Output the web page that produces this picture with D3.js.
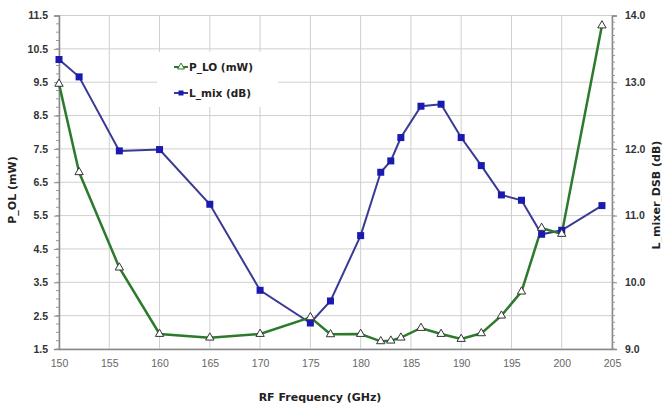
<!DOCTYPE html>
<meta charset="utf-8">
<body style="margin:0;background:#fff">
<script src="https://d3js.org/d3.v7.min.js"></script>
<script>

var width = 662,
    height = 406,
    margin = {top: 15.5, right: 50, bottom: 57, left: 59};

// frequencies (GHz)
var freq = [150, 152, 156, 160, 165, 170, 175, 177, 180, 182, 183, 184, 186, 188, 190, 192, 194, 196, 198, 200, 204];
// P_LO (mW), left axis
var pLO = [9.45, 6.8, 3.94, 1.95, 1.84, 1.95, 2.45, 1.94, 1.95, 1.73, 1.75, 1.84, 2.13, 1.95, 1.8, 1.97, 2.5, 3.22, 5.13, 4.95, 11.2];
// L_mix (dB), right axis
var lMix = [13.34, 13.08, 11.97, 11.99, 11.17, 9.88, 9.39, 9.72, 10.7, 11.65, 11.82, 12.17, 12.64, 12.67, 12.17, 11.75, 11.31, 11.23, 10.72, 10.78, 11.15];

var xTicks = [150, 155, 160, 165, 170, 175, 180, 185, 190, 195, 200, 205];
var leftTicks = [1.5, 2.5, 3.5, 4.5, 5.5, 6.5, 7.5, 8.5, 9.5, 10.5, 11.5];
var rightTicks = [9, 10, 11, 12, 13, 14];

var green = "#2d7a2d",
    blue = "#3a3a96",
    blueMark = "#1a1ab0";

var svg = d3.select("body").append("svg")
    .attr("width", width)
    .attr("height", height)
    .style("font-family", "'DejaVu Sans', Verdana, sans-serif");

var x = d3.scaleLinear().domain([150, 205]).range([margin.left, width - margin.right]);
var yL = d3.scaleLinear().domain([1.5, 11.5]).range([height - margin.bottom, margin.top]);
var yR = d3.scaleLinear().domain([9, 14]).range([height - margin.bottom, margin.top]);

// grid
svg.append("g").selectAll("line").data(leftTicks).enter().append("line")
    .attr("x1", x(150)).attr("x2", x(205))
    .attr("y1", d => yL(d)).attr("y2", d => yL(d))
    .attr("stroke", "#cfcfcf").attr("stroke-width", 1);
svg.append("g").selectAll("line").data(xTicks).enter().append("line")
    .attr("x1", d => x(d)).attr("x2", d => x(d))
    .attr("y1", yL(1.5)).attr("y2", yL(11.5))
    .attr("stroke", "#cfcfcf").attr("stroke-width", 1);

// legend background (covers grid)
svg.append("rect")
    .attr("x", 157).attr("y", 52).attr("width", 121).attr("height", 55)
    .attr("fill", "#fff");

// axes
var xAxis = svg.append("g")
    .attr("transform", "translate(0," + yL(1.5) + ")")
    .call(d3.axisBottom(x).tickValues(xTicks).tickSize(0).tickPadding(11));
xAxis.selectAll("text").attr("fill", "#666").style("font-size", "10.5px");

var leftAxis = svg.append("g")
    .attr("transform", "translate(" + margin.left + ",0)")
    .call(d3.axisLeft(yL).tickValues(leftTicks).tickFormat(d3.format(".1f")).tickSize(5).tickPadding(6));
leftAxis.selectAll("text").attr("fill", "#333").style("font-size", "10.5px").style("font-weight", "bold");

var rightAxis = svg.append("g")
    .attr("transform", "translate(" + (width - margin.right) + ",0)")
    .call(d3.axisRight(yR).tickValues(rightTicks).tickFormat(d3.format(".1f")).tickSize(5).tickPadding(8));
rightAxis.selectAll("text").attr("fill", "#333").style("font-size", "10.5px").style("font-weight", "bold");

[xAxis, leftAxis, rightAxis].forEach(function(a) {
  a.select(".domain").attr("stroke", "#888").attr("stroke-width", 1.5);
  a.selectAll(".tick line").attr("stroke", "#888");
});

// minor ticks
svg.append("g").selectAll("line").data(d3.range(1.5, 11.5, 0.25)).enter().append("line")
    .attr("x1", margin.left - 3).attr("x2", margin.left)
    .attr("y1", d => yL(d)).attr("y2", d => yL(d))
    .attr("stroke", "#999");
svg.append("g").selectAll("line").data(d3.range(9, 14, 0.1)).enter().append("line")
    .attr("x1", width - margin.right).attr("x2", width - margin.right + 3)
    .attr("y1", d => yR(d)).attr("y2", d => yR(d))
    .attr("stroke", "#999");

// lines
var lineL = d3.line().x((d, i) => x(freq[i])).y(d => yL(d));
var lineR = d3.line().x((d, i) => x(freq[i])).y(d => yR(d));

svg.append("path").datum(lMix)
    .attr("d", lineR).attr("fill", "none").attr("stroke", blue).attr("stroke-width", 2);
svg.append("path").datum(pLO)
    .attr("d", lineL).attr("fill", "none").attr("stroke", green).attr("stroke-width", 2.5);

svg.append("g").selectAll("rect").data(lMix).enter().append("rect")
    .attr("x", (d, i) => x(freq[i]) - 3.5).attr("y", d => yR(d) - 3.5)
    .attr("width", 7).attr("height", 7).attr("fill", blueMark);

var tri = d3.symbol().type(d3.symbolTriangle).size(30);
svg.append("g").selectAll("path").data(pLO).enter().append("path")
    .attr("d", tri)
    .attr("transform", (d, i) => "translate(" + x(freq[i]) + "," + yL(d) + ")")
    .attr("fill", "#fff").attr("stroke", "#333").attr("stroke-width", 1);

// legend
var legend = [
  {label: "P_LO (mW)", color: green, y: 67},
  {label: "L_mix (dB)", color: blue, y: 93}
];
var lg = svg.append("g").selectAll("g").data(legend).enter().append("g");
lg.append("line")
    .attr("x1", 174).attr("x2", 188)
    .attr("y1", d => d.y).attr("y2", d => d.y)
    .attr("stroke", d => d.color).attr("stroke-width", 2);
lg.filter((d, i) => i === 0).append("path")
    .attr("d", d3.symbol().type(d3.symbolTriangle).size(20))
    .attr("transform", d => "translate(181," + d.y + ")")
    .attr("fill", "#fff").attr("stroke", green);
lg.filter((d, i) => i === 1).append("rect")
    .attr("x", 178.5).attr("y", d => d.y - 2.5).attr("width", 5).attr("height", 5)
    .attr("fill", blueMark);
lg.append("text")
    .attr("x", 189).attr("y", d => d.y + 4)
    .attr("fill", "#222").style("font-size", "10.5px").style("font-weight", "bold")
    .text(d => d.label);

// axis titles
svg.append("text")
    .attr("x", 320).attr("y", 401)
    .attr("text-anchor", "middle")
    .attr("fill", "#222").style("font-size", "11px").style("font-weight", "bold")
    .text("RF Frequency (GHz)");
svg.append("text")
    .attr("transform", "translate(16,190) rotate(-90)")
    .attr("text-anchor", "middle")
    .attr("fill", "#222").style("font-size", "11px").style("font-weight", "bold")
    .text("P_OL (mW)");
svg.append("text")
    .attr("transform", "translate(660,195) rotate(-90)")
    .attr("text-anchor", "middle")
    .attr("fill", "#222").style("font-size", "11px").style("font-weight", "bold")
    .text("L_mixer_DSB (dB)");

</script>
